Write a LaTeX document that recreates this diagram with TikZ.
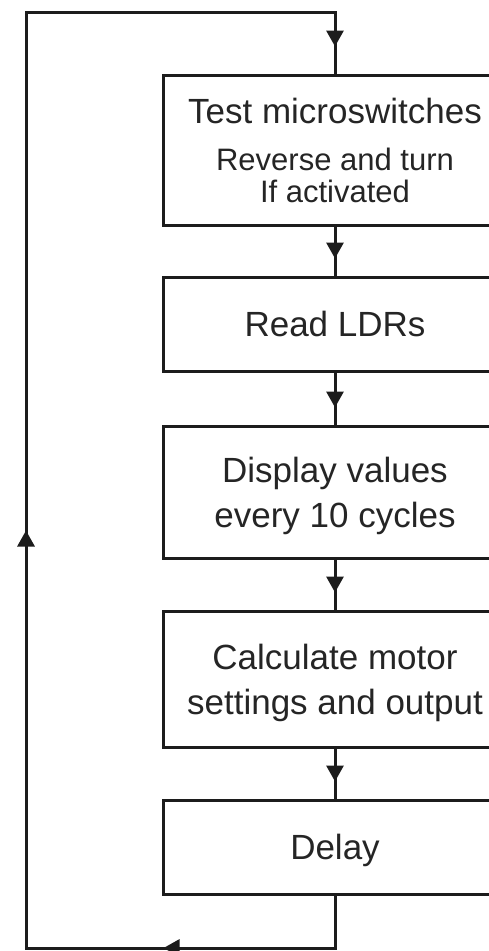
\documentclass[tikz,border=0pt]{standalone}
\usepackage{fontspec}
\setmainfont{Liberation Sans}
\usetikzlibrary{arrows.meta,decorations.markings}
\definecolor{linec}{HTML}{1C1C1C}
\definecolor{textc}{HTML}{252525}
\newcommand{\smallline}[1]{{\fontsize{31}{32}\selectfont #1}}
\tikzset{
  box/.style={draw=linec, rectangle, minimum width=344pt, inner sep=0pt,
    align=center, font=\fontsize{35}{45}\selectfont, text=textc, text depth=0pt},
  tiphead/.tip={Triangle[length=16pt,width=17pt]},
  flowline/.style={draw=linec, line width=3pt},
  arrowat/.style={postaction={decorate}, decoration={markings,
    mark=at position #1 with {\arrow{tiphead}}}},
}
\begin{document}
\begin{tikzpicture}[x=1pt,y=-1pt,line width=3pt]
\useasboundingbox (0,0) rectangle (489,951);
\clip (0,0) rectangle (489,951);
\node[box, minimum height=150pt] (b1) at (335,150)
  {Test microswitches\\[2pt]\smallline{Reverse and turn}\\[-13pt]\smallline{If activated}};
\node[box, minimum height=94pt] (b2) at (335,324) {Read LDRs};
\node[box, minimum height=132pt] (b3) at (335,492) {Display values\\every 10 cycles};
\node[box, minimum height=136pt] (b4) at (335,679) {Calculate motor\\settings and output};
\node[box, minimum height=94pt] (b5) at (335,847) {Delay};
\coordinate (br) at (335,948);
\coordinate (bl) at (26,948);
\coordinate (tl) at (26,12);
\coordinate (tr) at (335,12);
\draw[flowline, arrowat=-17pt] (b1.south) -- (b2.north);
\draw[flowline, arrowat=-17pt] (b2.south) -- (b3.north);
\draw[flowline, arrowat=-17pt] (b3.south) -- (b4.north);
\draw[flowline, arrowat=-17pt] (b4.south) -- (b5.north);
\draw[flowline, line join=miter,
  postaction={decorate}, decoration={markings,
    mark=at position 224pt with {\arrow{tiphead}},
    mark=at position 779pt with {\arrow{tiphead}},
    mark=at position -27pt with {\arrow{tiphead}}}]
  (b5.south) -- (br) -- (bl) -- (tl) -- (tr) -- (b1.north);
\end{tikzpicture}
\end{document}
